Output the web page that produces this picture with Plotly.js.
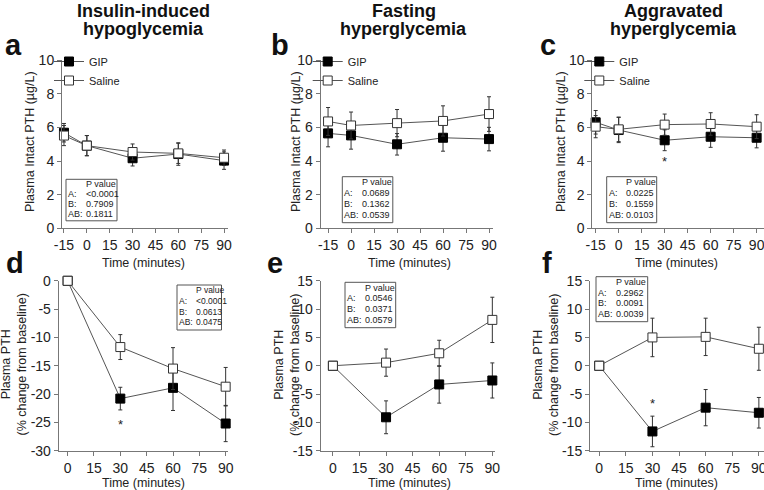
<!DOCTYPE html>
<html>
<head>
<meta charset="utf-8">
<script src="https://cdn.plot.ly/plotly-3.0.1.min.js"></script>
<style>
  body { margin: 0; background: #fff; }
  #viz { width: 764px; height: 490px; }
</style>
</head>
<body>
<div id="viz"></div>
<script>
// time points (minutes)
const timeAbs = [-15, 0, 30, 60, 90];
const timeRel = [0, 30, 60, 90];

// tick labels (plain hyphen like the original figure)
const absTicks = [-15, 0, 15, 30, 45, 60, 75, 90];
const relTicks = [0, 15, 30, 45, 60, 75, 90];
const topYTicks = [0, 2, 4, 6, 8, 10];
const dYTicks = [-30, -25, -20, -15, -10, -5, 0];
const efYTicks = [-15, -10, -5, 0, 5, 10, 15];

// a: insulin-induced hypoglycemia, intact PTH (ug/L)
const aGip = [5.69, 4.92, 4.17, 4.42, 4.03];
const aGipErr = [0.55, 0.6, 0.46, 0.67, 0.52];
const aSal = [5.52, 4.92, 4.54, 4.46, 4.2];
const aSalErr = [0.6, 0.6, 0.48, 0.6, 0.46];

// b: fasting hyperglycemia
const bGip = [5.65, 5.53, 5.0, 5.39, 5.31];
const bGipErr = [0.8, 0.82, 0.64, 0.8, 0.7];
const bSal = [6.36, 6.12, 6.26, 6.39, 6.8];
const bSalErr = [0.83, 0.8, 0.81, 0.9, 1.03];

// c: aggravated hyperglycemia
const cGip = [6.31, 5.85, 5.24, 5.45, 5.39];
const cGipErr = [0.7, 0.75, 0.62, 0.63, 0.6];
const cSal = [6.05, 5.89, 6.17, 6.21, 6.05];
const cSalErr = [0.66, 0.73, 0.63, 0.67, 0.71];

// d-f: % change from baseline
const dGip = [0, -20.8, -18.9, -25.2];
const dGipErr = [0, 2.0, 4.0, 3.2];
const dSal = [0, -11.7, -15.5, -18.7];
const dSalErr = [0, 2.2, 3.7, 3.4];

const eGip = [0, -9.1, -3.3, -2.6];
const eGipErr = [0, 2.9, 3.3, 3.1];
const eSal = [0, 0.55, 2.2, 8.1];
const eSalErr = [0, 2.4, 2.3, 4.0];

const fGip = [0, -11.6, -7.4, -8.3];
const fGipErr = [0, 2.7, 3.2, 2.7];
const fSal = [0, 5.0, 5.1, 3.0];
const fSalErr = [0, 3.4, 3.3, 3.8];

// p values per panel: A, B, AB
const pVals = {
  a: ['<0.0001', '0.7909', '0.1811'],
  b: ['0.0689', '0.1362', '0.0539'],
  c: ['0.0225', '0.1559', '0.0103'],
  d: ['<0.0001', '0.0613', '0.0475'],
  e: ['0.0546', '0.0371', '0.0579'],
  f: ['0.2962', '0.0091', '0.0039']
};

const panelTitles = [
  ['Insulin-induced', 'hypoglycemia'],
  ['Fasting', 'hyperglycemia'],
  ['Aggravated', 'hyperglycemia']
];

const W = 764, H = 490;
const px = p => p / W;
const py = p => 1 - p / H;
const FONT = 'Liberation Sans, Arial, sans-serif';
const lbl = v => String(v);

// panel geometry in pixels
const panels = [
  { xd: [62, 228], yd: [60.3, 228.3], xr: [-16.3, 92.6], yr: [0, 10], yt: topYTicks, xt: absTicks },
  { xd: [320.7, 493], yd: [60.3, 228.3], xr: [-19.8, 92.6], yr: [0, 10], yt: topYTicks, xt: absTicks },
  { xd: [592.3, 764], yd: [60.3, 228.3], xr: [-17.2, 94.8], yr: [0, 10], yt: topYTicks, xt: absTicks },
  { xd: [58.7, 228.3], yd: [280.8, 450.7], xr: [-5.1, 91.5], yr: [-30, 0], yt: dYTicks, xt: relTicks },
  { xd: [320.7, 495], yd: [280.8, 450.7], xr: [-6.9, 91.5], yr: [-15, 15], yt: efYTicks, xt: relTicks },
  { xd: [590, 764], yd: [280.8, 450.7], xr: [-5.2, 92.9], yr: [-15, 15], yt: efYTicks, xt: relTicks }
];

const series = [
  [timeAbs, aGip, aGipErr, aSal, aSalErr],
  [timeAbs, bGip, bGipErr, bSal, bSalErr],
  [timeAbs, cGip, cGipErr, cSal, cSalErr],
  [timeRel, dGip, dGipErr, dSal, dSalErr],
  [timeRel, eGip, eGipErr, eSal, eSalErr],
  [timeRel, fGip, fGipErr, fSal, fSalErr]
];

const layout = {
  width: W, height: H,
  margin: { l: 0, r: 0, t: 0, b: 0 },
  paper_bgcolor: '#fff', plot_bgcolor: 'rgba(0,0,0,0)',
  font: { family: FONT, color: '#222' },
  showlegend: true,
  annotations: [], shapes: []
};

const data = [];

panels.forEach((p, i) => {
  const n = i === 0 ? '' : String(i + 1);
  const axCommon = {
    showline: true, linecolor: '#777', linewidth: 1,
    ticks: 'outside', ticklen: 4, tickcolor: '#777', tickwidth: 1,
    showgrid: false, zeroline: false, fixedrange: true,
    tickfont: { size: 14, color: '#222', family: FONT },
    tickmode: 'array', ticklabeloverflow: 'allow'
  };
  layout['xaxis' + n] = Object.assign({}, axCommon, {
    domain: [px(p.xd[0]), px(p.xd[1])], range: p.xr,
    tickvals: p.xt, ticktext: p.xt.map(lbl), anchor: 'y' + n
  });
  layout['yaxis' + n] = Object.assign({}, axCommon, {
    domain: [py(p.yd[1]), py(p.yd[0])], range: p.yr,
    tickvals: p.yt, ticktext: p.yt.map(lbl), anchor: 'x' + n
  });

  const [t, gip, gipErr, sal, salErr] = series[i];
  const leg = i < 3 ? (i === 0 ? 'legend' : 'legend' + (i + 1)) : undefined;
  data.push({
    x: t, y: gip, xaxis: 'x' + n, yaxis: 'y' + n,
    type: 'scatter', mode: 'lines+markers', name: 'GIP',
    line: { color: '#555', width: 1 },
    marker: { symbol: 'square', size: 9, color: '#000', line: { color: '#000', width: 1 } },
    error_y: { type: 'data', array: gipErr, visible: true, color: '#333', thickness: 1, width: 2 },
    legend: leg, showlegend: i < 3, legendrank: 1, cliponaxis: false
  });
  data.push({
    x: t, y: sal, xaxis: 'x' + n, yaxis: 'y' + n,
    type: 'scatter', mode: 'lines+markers', name: 'Saline',
    line: { color: '#555', width: 1 },
    marker: { symbol: 'square', size: 9, color: '#fff', line: { color: '#333', width: 1 } },
    error_y: { type: 'data', array: salErr, visible: true, color: '#333', thickness: 1, width: 2 },
    legend: leg, showlegend: i < 3, legendrank: 2, cliponaxis: false
  });

  if (i < 3) {
    layout[leg] = {
      x: px(p.xd[0] - 13), xanchor: 'left', y: py(47), yanchor: 'top',
      bgcolor: 'rgba(0,0,0,0)', borderwidth: 0,
      font: { size: 11, color: '#222', family: FONT },
      itemwidth: 30, tracegroupgap: 0
    };
  }
});

// panel titles (two tight lines) and letters
const titleX = [143, 404, 673];
panelTitles.forEach((lines, i) => {
  lines.forEach((txt, j) => {
    layout.annotations.push({
      text: '<b>' + txt + '</b>', xref: 'paper', yref: 'paper',
      x: px(titleX[i]), y: py(j === 0 ? 10.5 : 28.5), xanchor: 'center', yanchor: 'middle',
      showarrow: false, font: { size: 18, color: '#111', family: FONT }
    });
  });
});
const letters = [
  ['a', 3, 45], ['b', 269, 45], ['c', 538, 45],
  ['d', 4, 263], ['e', 265, 263], ['f', 540, 263]
];
letters.forEach(([l, x, y]) => {
  layout.annotations.push({
    text: '<b>' + l + '</b>', xref: 'paper', yref: 'paper',
    x: px(x), y: py(y), xanchor: 'left', yanchor: 'middle',
    showarrow: false, font: { size: 29, color: '#111', family: FONT }
  });
});

// axis titles
[30, 296, 561].forEach(x => {
  layout.annotations.push({
    text: 'Plasma Intact PTH (\u00b5g/L)', xref: 'paper', yref: 'paper',
    x: px(x), y: py(142), xanchor: 'center', yanchor: 'middle', textangle: -90,
    showarrow: false, font: { size: 12.5, color: '#222', family: FONT }
  });
});
[13.5, 287, 546].forEach(x => {
  layout.annotations.push({
    text: 'Plasma PTH<br>(% change from baseline)', xref: 'paper', yref: 'paper',
    x: px(x), y: py(365), xanchor: 'center', yanchor: 'middle', textangle: -90,
    showarrow: false, font: { size: 12.5, color: '#222', family: FONT }
  });
});
[143, 409, 676].forEach(x => {
  [263, 482.5].forEach(y => {
    layout.annotations.push({
      text: 'Time (minutes)', xref: 'paper', yref: 'paper',
      x: px(x), y: py(y), xanchor: 'center', yanchor: 'middle',
      showarrow: false, font: { size: 12.5, color: '#222', family: FONT }
    });
  });
});

// P value boxes [left, top, width, height]
const boxes = {
  a: [66, 179.3, 51, 41.5],
  b: [342.3, 176.7, 50.5, 46],
  c: [606.7, 176.7, 50, 46],
  d: [177, 285, 44.5, 45],
  e: [345, 282.3, 50.7, 45.4],
  f: [596, 276.7, 51.7, 45]
};
Object.keys(boxes).forEach(k => {
  const [l, t, w, h] = boxes[k];
  layout.shapes.push({
    type: 'rect', xref: 'paper', yref: 'paper',
    x0: px(l), x1: px(l + w), y0: py(t), y1: py(t + h),
    line: { color: '#555', width: 1 }, fillcolor: 'rgba(0,0,0,0)'
  });
  const rowY = r => py(t + h * 0.12 + r * h * 0.235);
  const f = { size: k === 'd' ? 8.5 : 9, color: '#222', family: FONT };
  const valX = px(l + (k === 'd' ? 16.5 : 17.5));
  layout.annotations.push({
    text: 'P value', xref: 'paper', yref: 'paper', x: valX, y: rowY(0),
    xanchor: 'left', yanchor: 'middle', showarrow: false, font: f
  });
  ['A:', 'B:', 'AB:'].forEach((lab, r) => {
    layout.annotations.push({
      text: lab, xref: 'paper', yref: 'paper', x: px(l), y: rowY(r + 1),
      xanchor: 'left', yanchor: 'middle', showarrow: false, font: f
    });
    layout.annotations.push({
      text: pVals[k][r], xref: 'paper', yref: 'paper', x: valX, y: rowY(r + 1),
      xanchor: 'left', yanchor: 'middle', showarrow: false, font: f
    });
  });
});

// significance marks
[['3', 30, 4.0], ['4', 30, -25.3], ['6', 30, -6.7]].forEach(([n, x, y]) => {
  layout.annotations.push({
    text: '*', xref: 'x' + n, yref: 'y' + n, x: x, y: y,
    xanchor: 'center', yanchor: 'middle', showarrow: false,
    font: { size: 13, color: '#222', family: FONT }
  });
});

Plotly.newPlot('viz', data, layout, { displayModeBar: false, staticPlot: true });
</script>
</body>
</html>
